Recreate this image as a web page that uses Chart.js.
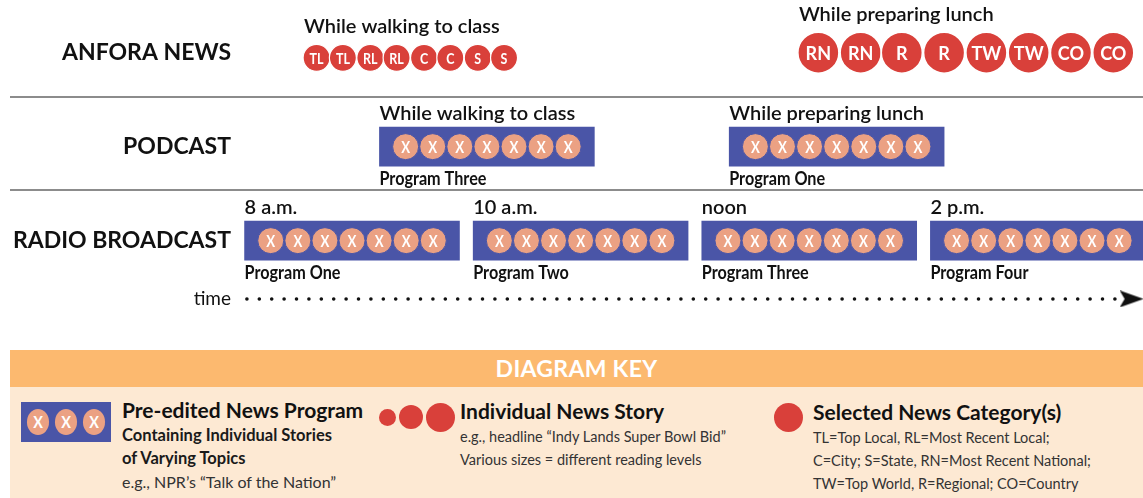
<!DOCTYPE html>
<html>
<head>
<meta charset="utf-8">
<title>News formats across the day</title>
<script src="https://cdn.jsdelivr.net/npm/chart.js@4.4.1/dist/chart.umd.min.js"></script>
<style>
  html, body { margin: 0; padding: 0; background: #fff; }
  body { width: 1143px; height: 498px; position: relative; overflow: hidden; font-family: Lato, 'Open Sans', sans-serif; color: #111; }
  #wrap { position: absolute; left: 0; top: 0; width: 1143px; height: 340px; }
  #key { position: absolute; left: 10px; top: 350px; width: 1133px; height: 148px; background: #fde9d3; }
  #key .head { height: 37px; line-height: 37px; background: #fcb96f; color: #fff; font-weight: 700; font-size: 23px; text-align: center; letter-spacing: 0.3px; }
  #key .abs { position: absolute; }
  .prog-icon { width: 90px; height: 40px; background: #4a55a7; display: flex; align-items: center; justify-content: center; gap: 2px; }
  .prog-icon i { width: 26px; height: 26px; border-radius: 50%; background: #eba183; color: #fff; font-style: normal; font-weight: 700; font-size: 17px; line-height: 26px; text-align: center; display: inline-block; transform: scaleX(0.85); }
  .dot { background: #d9403a; border-radius: 50%; }
  .ttl { font-size: 21px; line-height: 24px; font-weight: 700; color: #111; white-space: nowrap; }
  .sub { font-size: 14.5px; line-height: 23px; color: #333; white-space: nowrap; margin-top: 2px; }
  .sub b { color: #1a1a1a; font-size: 16.5px; }
  .sub .big { font-size: 16px; }
</style>
</head>
<body>
<div id="wrap"><canvas id="diagram"></canvas></div>

<div id="key">
  <div class="head">DIAGRAM KEY</div>

  <div class="abs prog-icon" style="left:11px; top:52px;"><i>X</i><i>X</i><i>X</i></div>
  <div class="abs" style="left:112px; top:48px;">
    <div class="ttl">Pre-edited News Program</div>
    <div class="sub"><b>Containing Individual Stories</b><br><b>of Varying Topics</b><br><span class="big">e.g., NPR’s “Talk of the Nation”</span></div>
  </div>

  <div class="abs dot" style="left:369px; top:59px; width:17px; height:17px;"></div>
  <div class="abs dot" style="left:389px; top:55px; width:24px; height:24px;"></div>
  <div class="abs dot" style="left:416px; top:53px; width:29px; height:29px;"></div>
  <div class="abs" style="left:450px; top:49px;">
    <div class="ttl">Individual News Story</div>
    <div class="sub">e.g., headline “Indy Lands Super Bowl Bid”<br>Various sizes = different reading levels</div>
  </div>

  <div class="abs dot" style="left:764px; top:53px; width:29px; height:29px;"></div>
  <div class="abs" style="left:803px; top:50px;">
    <div class="ttl">Selected News Category(s)</div>
    <div class="sub">TL=Top Local, RL=Most Recent Local;<br>C=City; S=State, RN=Most Recent National;<br>TW=Top World, R=Regional; CO=Country</div>
  </div>
</div>

<script>
// ------------------------------------------------------------
// rows of the diagram, top to bottom (y axis)
// ------------------------------------------------------------
const rowLabels = ['ANFORA NEWS', 'PODCAST', 'RADIO BROADCAST', 'time'];
const rowValues = [1, 2, 3, 3.62];

// Anfora News: single stories read in two sittings (hour of the day)
const anforaMoments = ['While walking to class', 'While preparing lunch'];
const anforaWalkStories = ['TL', 'TL', 'RL', 'RL', 'C', 'C', 'S', 'S'];
const anforaWalkTimes = [8.63, 8.86, 9.10, 9.33, 9.57, 9.80, 10.04, 10.27];
const anforaLunchStories = ['RN', 'RN', 'R', 'R', 'TW', 'TW', 'CO', 'CO'];
const anforaLunchTimes = [13.02, 13.39, 13.75, 14.12, 14.49, 14.86, 15.23, 15.60];

// Podcast: a whole program, played whenever the listener wants
const podcastMoments = ['While walking to class', 'While preparing lunch'];
const podcastPrograms = ['Program Three', 'Program One'];
const podcastStarts = [9.18, 12.24];

// Radio: fixed broadcast schedule
const radioTimes = ['8 a.m.', '10 a.m.', 'noon', '2 p.m.'];
const radioPrograms = ['Program One', 'Program Two', 'Program Three', 'Program Four'];
const radioStarts = [8, 10, 12, 14];

const programLength = 1.88;   // hours
const programStories = ['X', 'X', 'X', 'X', 'X', 'X', 'X'];
const storyLength = 0.237;    // hours per story inside a program

const timeSpan = [8.02, 15.76];

// ------------------------------------------------------------

const BLUE = '#4a55a7';
const SALMON = '#eba183';
const RED = '#d9403a';
const FONT = 'Lato, "Open Sans", sans-serif';

const programs = [
  ...podcastStarts.map((s, i) => ({ start: s, row: rowValues[1], above: podcastMoments[i], below: podcastPrograms[i] })),
  ...radioStarts.map((s, i) => ({ start: s, row: rowValues[2], above: radioTimes[i], below: radioPrograms[i] })),
];

// stories sit evenly inside each program box
const lead = (programLength - (programStories.length - 1) * storyLength) / 2;
const programStoryPoints = [];
programs.forEach(p => {
  programStories.forEach((s, i) => {
    programStoryPoints.push({ x: p.start + lead + i * storyLength, y: p.row, label: s });
  });
});

// small circles sit on the same baseline as the big ones
const walkPoints = anforaWalkTimes.map((t, i) => ({ x: t, y: rowValues[0] + 0.055, label: anforaWalkStories[i] }));
const lunchPoints = anforaLunchTimes.map((t, i) => ({ x: t, y: rowValues[0], label: anforaLunchStories[i] }));

// stealth arrow head for the time line
const arrow = document.createElement('canvas');
arrow.width = 24;
arrow.height = 17;
{
  const a = arrow.getContext('2d');
  a.fillStyle = '#111';
  a.beginPath();
  a.moveTo(0, 0);
  a.lineTo(24, 8.5);
  a.lineTo(0, 17);
  a.lineTo(5, 8.5);
  a.closePath();
  a.fill();
}

function squeezedText(ctx, text, x, y, font, align, sx) {
  ctx.save();
  ctx.font = font;
  ctx.textAlign = align;
  ctx.translate(x, y);
  ctx.scale(sx, 1);
  ctx.fillText(text, 0, 0);
  ctx.restore();
}

const diagramText = {
  id: 'diagramText',
  beforeDatasetsDraw(chart) {
    const { ctx, scales: { y } } = chart;
    ctx.save();
    ctx.strokeStyle = '#8c8c8c';
    ctx.lineWidth = 2;
    [1.47, 2.46].forEach(v => {
      const py = Math.round(y.getPixelForValue(v));
      ctx.beginPath();
      ctx.moveTo(10, py);
      ctx.lineTo(chart.width, py);
      ctx.stroke();
    });
    ctx.restore();
  },
  afterDatasetsDraw(chart) {
    const { ctx } = chart;
    ctx.save();
    ctx.fillStyle = '#111';
    ctx.textBaseline = 'alphabetic';

    // labels above / below each program box
    chart.getDatasetMeta(0).data.forEach((bar, i) => {
      const { x, base, y, height } = bar.getProps(['x', 'base', 'y', 'height'], true);
      const left = Math.min(x, base);
      ctx.font = `600 20px ${FONT}`;
      ctx.textAlign = 'left';
      ctx.fillText(programs[i].above, left, y - height / 2 - 7);
      squeezedText(ctx, programs[i].below, left, y + height / 2 + 19, `bold 18px ${FONT}`, 'left', 0.9);
    });

    // Anfora sitting titles
    [[2, anforaMoments[0]], [3, anforaMoments[1]]].forEach(([di, title]) => {
      const first = chart.getDatasetMeta(di).data[0];
      const r = first.options.radius;
      ctx.font = `600 20px ${FONT}`;
      ctx.textAlign = 'left';
      ctx.fillText(title, first.x - r + 1, first.y - r - 11);
    });

    // letters inside the circles
    ctx.fillStyle = '#fff';
    ctx.textBaseline = 'middle';
    [[1, 17, 0.78], [2, 16, 0.78], [3, 19, 0.95]].forEach(([di, size, sx]) => {
      const ds = chart.data.datasets[di];
      chart.getDatasetMeta(di).data.forEach((pt, i) => {
        squeezedText(ctx, ds.data[i].label, pt.x, pt.y + 1, `bold ${size}px ${FONT}`, 'center', sx);
      });
    });
    ctx.restore();
  }
};

Chart.defaults.font.family = FONT;

new Chart(document.getElementById('diagram'), {
  type: 'bubble',
  data: {
    datasets: [
      {
        type: 'bar',
        indexAxis: 'y',
        data: programs.map(p => ({ x: [p.start, p.start + programLength], y: p.row })),
        backgroundColor: BLUE,
        borderWidth: 0,
        barThickness: 39,
        order: 4
      },
      {
        data: programStoryPoints,
        radius: 13,
        backgroundColor: SALMON,
        borderColor: BLUE,
        borderWidth: 1,
        order: 3
      },
      {
        data: walkPoints,
        radius: 13.5,
        backgroundColor: RED,
        borderColor: '#fff',
        borderWidth: 1.2,
        order: 2
      },
      {
        data: lunchPoints,
        radius: 20.5,
        backgroundColor: RED,
        borderColor: '#fff',
        borderWidth: 1.5,
        order: 1
      },
      {
        type: 'line',
        data: timeSpan.map(t => ({ x: t, y: rowValues[3] })),
        borderColor: '#111',
        borderWidth: 3.5,
        borderDash: [0.1, 12.3],
        borderCapStyle: 'round',
        pointStyle: ['circle', arrow],
        pointRadius: [0, 10],
        order: 0
      }
    ]
  },
  options: {
    responsive: true,
    maintainAspectRatio: false,
    animation: false,
    events: [],
    layout: { padding: 0, autoPadding: false },
    plugins: { legend: { display: false }, tooltip: { enabled: false } },
    scales: {
      x: { type: 'linear', min: 7.96, max: 15.86, display: false },
      y: {
        type: 'linear',
        reverse: true,
        min: 0.44,
        max: 4.057,
        bounds: 'data',
        offset: false,
        grid: { display: false, drawTicks: false },
        border: { display: false },
        afterBuildTicks: axis => { axis.ticks = rowValues.map(v => ({ value: v })); },
        afterFit: axis => { axis.width = 240; axis.paddingTop = 0; axis.paddingBottom = 0; },
        ticks: {
          autoSkip: false,
          padding: 9,
          color: '#111',
          callback: (v, i) => rowLabels[i],
          font: c => c.index === 3 ? { family: FONT, size: 19, weight: 'normal' } : { family: FONT, size: 23, weight: 'bold' }
        }
      }
    }
  },
  plugins: [diagramText]
});
</script>
</body>
</html>
